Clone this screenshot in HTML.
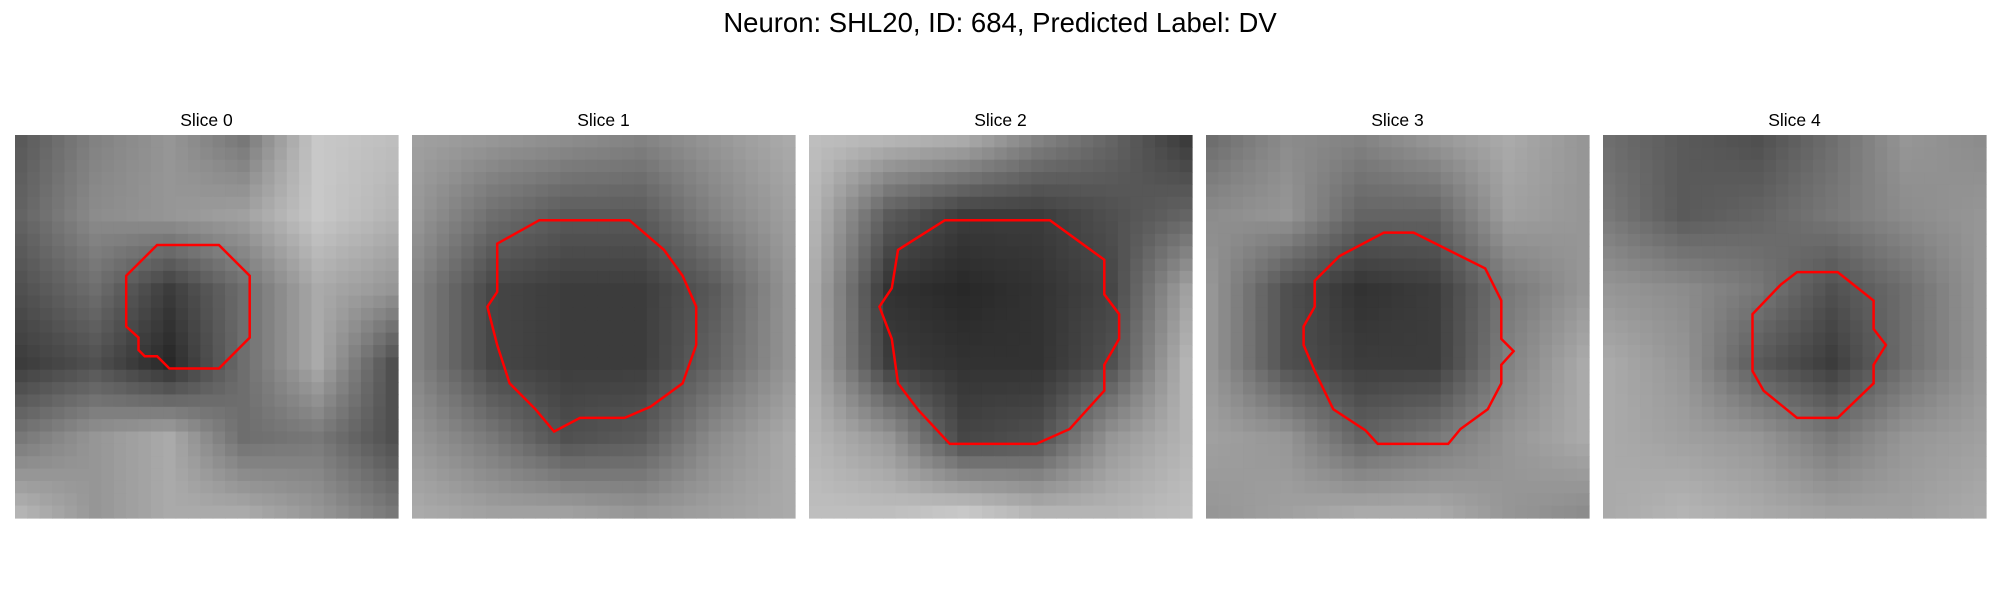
<!DOCTYPE html>
<html><head><meta charset="utf-8"><style>
html,body{margin:0;padding:0;background:#fff;width:2000px;height:600px;overflow:hidden}
svg{display:block}
text{font-family:"Liberation Sans","DejaVu Sans",sans-serif;fill:#000}
</style></head><body>
<svg id="fig" width="2000" height="600">
<text x="1000" y="32" text-anchor="middle" font-size="27.5">Neuron: SHL20, ID: 684, Predicted Label: DV</text>
</svg>
<script>
const sliceLabels = ["Slice 0","Slice 1","Slice 2","Slice 3","Slice 4"];
const coarse0 = [[90,130,150,120,200,190],[100,140,150,160,200,180],[80,110,60,110,170,150],[60,80,40,110,170,80],[120,150,170,110,120,80],[180,150,170,170,150,120]];
const coarse1 = [[160,150,140,130,150,170],[150,110,90,90,130,160],[130,70,60,60,90,150],[130,70,60,60,100,150],[150,120,80,90,140,170],[170,160,160,150,160,170]];
const coarse2 = [[190,180,170,130,100,60],[180,90,60,60,80,100],[170,50,40,50,70,160],[170,60,50,50,80,180],[180,150,70,80,150,180],[190,190,200,180,180,190]];
const coarse3 = [[110,140,130,150,170,150],[140,150,100,100,160,150],[150,80,50,60,120,150],[150,80,60,60,130,170],[160,150,100,120,150,170],[150,160,170,170,150,140]];
const coarse4 = [[110,90,80,110,150,140],[120,90,100,120,140,150],[150,140,120,80,110,150],[170,150,90,60,110,150],[170,160,150,120,150,160],[170,180,170,160,160,170]];
const contour0 = [[11.5,8.9],[16.5,8.9],[19,11.4],[19,16.4],[16.5,18.9],[12.5,18.9],[11.5,17.9],[10.5,17.9],[10,17.4],[10,16.4],[9,15.5],[9,11.4]];
const contour1 = [[10.3,6.9],[17.6,6.9],[20.4,9.3],[21.9,11.4],[23,13.9],[23,17],[21.9,20.1],[19.3,22],[17.2,22.9],[13.6,22.9],[11.5,24],[10,22.2],[7.9,20.1],[6.9,17],[6.1,13.9],[6.9,12.7],[6.9,8.8]];
const contour2 = [[11,6.9],[19.5,6.9],[23.9,10.1],[23.9,12.9],[25.1,14.5],[25.1,16.5],[23.9,18.6],[23.9,20.7],[21.1,23.8],[18.4,25],[11.4,25],[8.8,22.2],[7.2,20.1],[6.7,16.5],[5.7,13.9],[6.7,12.4],[7.2,9.3]];
const contour3 = [[14.4,7.9],[16.8,7.9],[20.6,9.8],[22.6,10.8],[23.9,13.4],[23.9,16.5],[24.9,17.5],[23.9,18.6],[23.9,20.1],[22.8,22.2],[20.6,23.8],[19.6,25],[13.9,25],[12.9,23.9],[10.3,22.2],[8.8,19.1],[7.9,17],[7.9,15.5],[8.8,13.9],[8.8,11.8],[10.8,9.8]];
const contour4 = [[15.7,11.1],[19,11.1],[21.9,13.4],[21.9,15.7],[22.9,17],[21.9,18.6],[21.9,20.1],[19,22.9],[15.7,22.9],[13,20.7],[12.1,19.1],[12.1,14.5],[14.4,12.1]];
const coarseGrids=[coarse0,coarse1,coarse2,coarse3,coarse4];
const contours=[contour0,contour1,contour2,contour3,contour4];
const NS="http://www.w3.org/2000/svg";
const svg=document.getElementById('fig');
const N=31, X0=15, STEP=397, Y0=135, W=383;
const cs=W/N;
function sample(g,u,v){
  const n=g.length-1; const fx=u*n, fy=v*n;
  const i=Math.min(Math.floor(fx),n-1), j=Math.min(Math.floor(fy),n-1);
  const a=fx-i,b=fy-j;
  return (g[j][i]*(1-a)+g[j][i+1]*a)*(1-b)+(g[j+1][i]*(1-a)+g[j+1][i+1]*a)*b;
}
for(let p=0;p<5;p++){
  const px=X0+p*STEP;
  const g=document.createElementNS(NS,'g');
  
  
  svg.appendChild(g);
  const t=document.createElementNS(NS,'text');
  
  
  t.setAttribute('x',px+W/2);t.setAttribute('y',126);
  t.setAttribute('text-anchor','middle');t.setAttribute('font-size','17.5');
  t.textContent=sliceLabels[p];g.appendChild(t);
  for(let r=0;r<N;r++)for(let c=0;c<N;c++){
    const v=Math.round(sample(coarseGrids[p],c/(N-1),r/(N-1)));
    const rc=document.createElementNS(NS,'rect');
    
    
    rc.setAttribute('x',(px+c*cs).toFixed(2));rc.setAttribute('y',(Y0+r*cs).toFixed(2));
    rc.setAttribute('width',(cs+0.6).toFixed(2));rc.setAttribute('height',(cs+0.6).toFixed(2));
    rc.setAttribute('fill',`rgb(${v},${v},${v})`);
    g.appendChild(rc);
  }
  const poly=document.createElementNS(NS,'polygon');
  
  
  poly.setAttribute('points',contours[p].map(q=>(px+q[0]*cs).toFixed(1)+','+(Y0+q[1]*cs).toFixed(1)).join(' '));
  poly.setAttribute('fill','none');poly.setAttribute('stroke','#ff0000');poly.setAttribute('stroke-width','2.5');
  g.appendChild(poly);
}
</script>
</body></html>
